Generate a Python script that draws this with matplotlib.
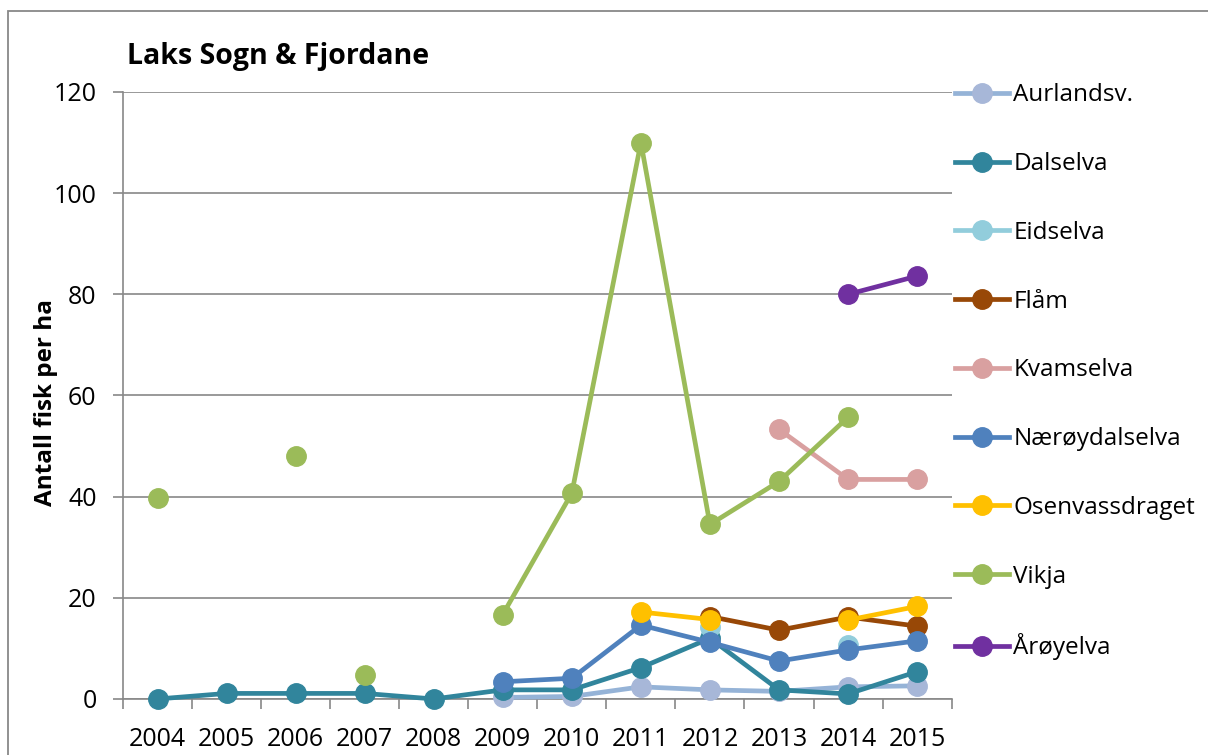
import matplotlib.pyplot as plt
import matplotlib.patches as patches
import numpy as np

nan = np.nan
years = ["2004", "2005", "2006", "2007", "2008", "2009", "2010",
         "2011", "2012", "2013", "2014", "2015"]

aurland = [nan, nan, nan, nan, nan, 0.3, 0.5, 2.4, 1.8, 1.5, 2.4, 2.6]
dalselva = [0.0, 1.1, 1.1, 1.1, 0.0, 1.8, 1.8, 6.2, 12.0, 1.8, 1.0, 5.4]
eidselva = [nan, nan, nan, nan, nan, nan, nan, nan, 14.2, nan, 10.6, nan]
flam = [nan, nan, nan, nan, nan, nan, nan, nan, 16.3, 13.6, 16.2, 14.4]
kvamselva = [nan, nan, nan, nan, nan, nan, nan, nan, nan, 53.3, 43.4, 43.4]
naeroy = [nan, nan, nan, nan, nan, 3.4, 4.1, 14.6, 11.2, 7.5, 9.7, 11.5]
osen = [nan, nan, nan, nan, nan, nan, nan, 17.2, 15.7, nan, 15.6, 18.3]
vikja = [39.7, nan, 48.0, 4.8, nan, 16.7, 40.7, 110.0, 34.5, 43.0, 55.7, nan]
aroy = [nan, nan, nan, nan, nan, nan, nan, nan, nan, nan, 80.0, 83.6]

# Vikja's early counts are single points, not joined by a line
vikja_first_joined = 5

series = [
    ("Aurlandsv.", aurland, "#95B3D7", "#A7B7D8"),
    ("Dalselva", dalselva, "#31859C", "#31859C"),
    ("Eidselva", eidselva, "#92CDDC", "#92CDDC"),
    ("Flåm", flam, "#984807", "#984807"),
    ("Kvamselva", kvamselva, "#D9A0A0", "#D9A0A0"),
    ("Nærøydalselva", naeroy, "#4F81BD", "#4F81BD"),
    ("Osenvassdraget", osen, "#FFC000", "#FFC000"),
    ("Vikja", vikja, "#9BBB59", "#9BBB59"),
    ("Årøyelva", aroy, "#7030A0", "#7030A0"),
]

plt.rcParams['font.family'] = ['Open Sans', 'DejaVu Sans']

fig = plt.figure(figsize=(12.08, 7.55), dpi=100)
ax = fig.add_axes([0.1018, 0.0742, 0.686, 0.804])

x = np.arange(len(years))
for name, vals, lc, mc in series:
    line_vals = np.array(vals, dtype=float)
    if name == "Vikja":
        line_vals[:vikja_first_joined] = nan
    ax.plot(x, line_vals, color=lc, lw=3.4, solid_capstyle="round",
            clip_on=False, zorder=3)
    ax.plot(x, vals, ls="none", marker="o", markersize=14,
            markerfacecolor=mc, markeredgecolor=mc, clip_on=False, zorder=3)
    # legend proxy
    ax.plot([], [], color=lc, lw=3.4, marker="o", markersize=14,
            markerfacecolor=mc, markeredgecolor=mc, label=name)

grey = "#888888"
ax.set_xlim(-0.5, 11.5)
ax.set_ylim(0, 120)
ax.set_yticks(range(0, 121, 20))
ax.yaxis.grid(True, color=grey, lw=1.2)
ax.set_axisbelow(True)
ax.set_xticks(np.arange(-0.5, 12, 1))
ax.set_xticklabels([])
ax.set_xticks(x, minor=True)
ax.set_xticklabels(years, minor=True)
ax.tick_params(axis="x", which="major", length=7, width=1.2, color=grey)
ax.tick_params(axis="x", which="minor", length=0, pad=20, labelsize=18)
ax.tick_params(axis="y", length=7, width=1.2, color=grey, labelsize=18, pad=12)
for s in ["top", "right"]:
    ax.spines[s].set_visible(False)
for s in ["left", "bottom"]:
    ax.spines[s].set_color(grey)
    ax.spines[s].set_linewidth(1.2)

ax.set_ylabel("Antall fisk per ha", fontsize=17.5, fontweight="bold")
ax.yaxis.set_label_coords(-0.078, 0.489)
fig.text(0.105, 0.925, "Laks Sogn & Fjordane", fontsize=20.5, fontweight="bold",
         ha="left", va="center")

ax.legend(loc="upper left", bbox_to_anchor=(0.9917, 1.030), frameon=False,
          fontsize=17.5, handlelength=2.26, handletextpad=0.16,
          labelspacing=1.84, borderaxespad=0)

fig.patches.append(patches.Rectangle((8 / 1208, -0.1), 1.2, 1.1 - 11 / 755,
                                     transform=fig.transFigure, fill=False,
                                     edgecolor=grey, lw=1.3))

fig.savefig("out.png", dpi=100)
